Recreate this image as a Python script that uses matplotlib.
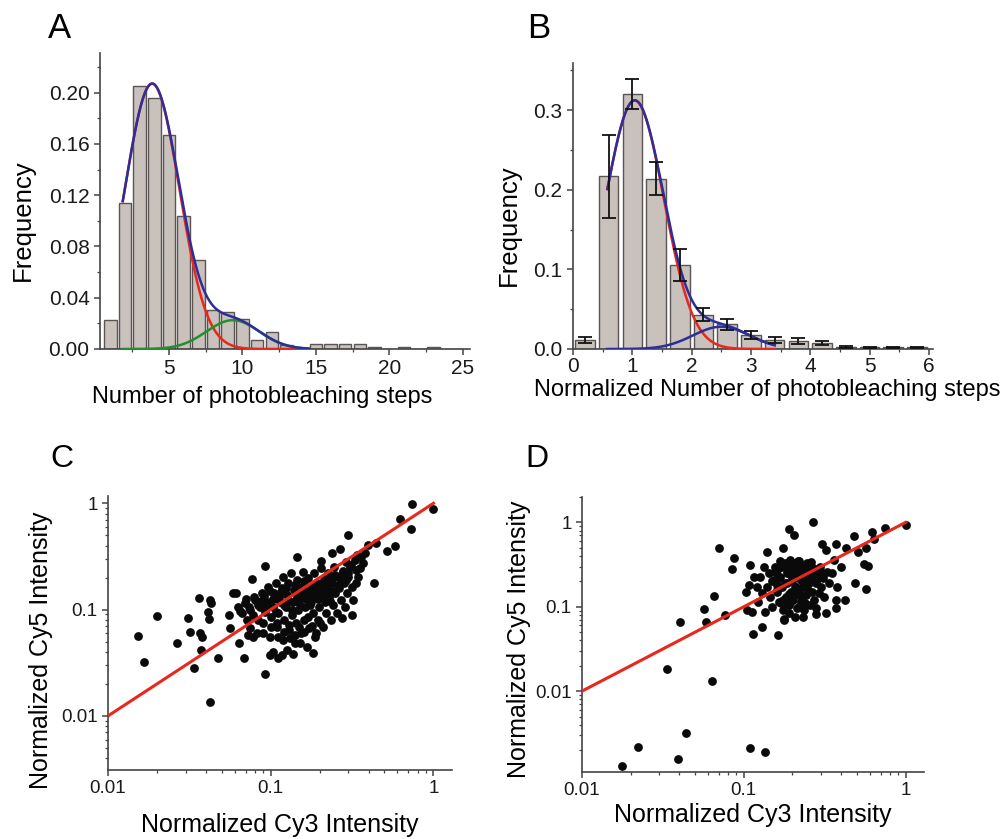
import numpy as np
import matplotlib
matplotlib.use("Agg")
import matplotlib.pyplot as plt
from matplotlib.ticker import MultipleLocator, FixedLocator, FuncFormatter, LogLocator, NullFormatter

plt.rcParams['font.family'] = ['Liberation Sans', 'DejaVu Sans']

# ---------------- Panel A data ----------------
steps_A = list(range(1, 24))
freq_A = [0.0223, 0.114, 0.205, 0.196, 0.167, 0.104, 0.0696, 0.0306, 0.0288, 0.0234,
          0.0068, 0.0135, 0.003, 0.001, 0.004, 0.004, 0.004, 0.004, 0.0013, 0.0,
          0.0013, 0.0, 0.0013]
# Gaussian fit components (amplitude, centre, sigma) and drawn range
fitA_main = (0.207, 3.85, 1.85)
fitA_second = (0.0225, 9.35, 1.8)
fitA_range = (1.85, 14.5)

# ---------------- Panel B data ----------------
bins_B = [0.2, 0.6, 1.0, 1.4, 1.8, 2.2, 2.6, 3.0, 3.4, 3.8, 4.2, 4.6, 5.0, 5.4, 5.8]
freq_B = [0.011, 0.217, 0.320, 0.214, 0.105, 0.043, 0.031, 0.018, 0.011, 0.010,
          0.0075, 0.0025, 0.002, 0.002, 0.002]
err_B = [0.004, 0.052, 0.019, 0.021, 0.020, 0.008, 0.007, 0.005, 0.004, 0.004,
         0.003, 0.001, 0.001, 0.001, 0.001]
fitB_main = (0.312, 1.04, 0.49)
fitB_second = (0.028, 2.5, 0.48)
fitB_range = (0.58, 3.4)

# ---------------- Panel C data ----------------
cy3_C = [0.0153, 0.0167, 0.020, 0.0265, 0.0308, 0.032, 0.034, 0.0363, 0.0367, 0.0375,
         0.038, 0.041, 0.042, 0.0422, 0.043, 0.0422, 0.0475, 0.0556, 0.0561, 0.0589,
         0.061, 0.064, 0.0687, 0.0762, 0.0925, 0.092, 0.0989, 0.111, 0.146, 0.183,
         0.204, 0.237, 0.267, 0.30, 0.314, 0.273, 0.334, 0.334, 0.354, 0.431,
         0.398, 0.445, 0.516, 0.581, 0.624, 0.729, 0.74, 1.0, 0.36, 0.29,
         0.063, 0.0662, 0.0694, 0.071, 0.0737, 0.0751, 0.078, 0.080, 0.0818, 0.0838,
         0.0858, 0.0879, 0.090, 0.092, 0.0942, 0.0966, 0.0988, 0.100, 0.1026, 0.1045,
         0.1076, 0.1086, 0.1112, 0.1138, 0.1166, 0.1183, 0.1194, 0.1205, 0.124, 0.1264,
         0.128, 0.130, 0.1324, 0.1343, 0.1362, 0.139, 0.141, 0.1429, 0.1456, 0.1476,
         0.1497, 0.1527, 0.1548, 0.157, 0.160, 0.1622, 0.1644, 0.1677, 0.170, 0.1724,
         0.1758, 0.1783, 0.1808, 0.1844, 0.187, 0.1897, 0.1932, 0.196, 0.1988, 0.2026,
         0.2055, 0.2084, 0.2123, 0.2153, 0.2183, 0.2226, 0.2257, 0.2289, 0.2333, 0.2366,
         0.240, 0.2449, 0.2483, 0.2541, 0.260, 0.264, 0.2692, 0.2767, 0.2818, 0.2858,
         0.293, 0.300, 0.307, 0.314, 0.322, 0.330, 0.337, 0.345, 0.367, 0.380,
         0.1259, 0.1376, 0.1112, 0.151, 0.131, 0.090, 0.078, 0.0727, 0.1035, 0.1166,
         0.065, 0.07, 0.075, 0.079, 0.083, 0.087, 0.091, 0.095, 0.099, 0.103,
         0.107, 0.112, 0.116, 0.12, 0.125, 0.13, 0.135, 0.14, 0.145, 0.15,
         0.155, 0.16, 0.165, 0.17, 0.175, 0.18, 0.185, 0.19, 0.195, 0.2,
         0.205, 0.21, 0.215, 0.22, 0.225, 0.23, 0.235, 0.24, 0.25, 0.26,
         0.27, 0.28, 0.29, 0.3, 0.31, 0.12, 0.13, 0.14, 0.15, 0.16,
         0.17, 0.18, 0.11, 0.1, 0.19, 0.2]
cy5_C = [0.056, 0.0318, 0.087, 0.048, 0.084, 0.062, 0.028, 0.129, 0.060, 0.0416,
         0.055, 0.0955, 0.081, 0.123, 0.116, 0.0135, 0.0347, 0.0887, 0.0665, 0.142,
         0.144, 0.048, 0.0347, 0.194, 0.257, 0.0247, 0.0372, 0.0347, 0.31, 0.039,
         0.288, 0.343, 0.369, 0.504, 0.0887, 0.0826, 0.179, 0.236, 0.244, 0.179,
         0.405, 0.42, 0.356, 0.396, 0.707, 0.569, 0.985, 0.878, 0.31, 0.28,
         0.106, 0.092, 0.116, 0.0796, 0.106, 0.0665, 0.0887, 0.123, 0.0597, 0.0796,
         0.106, 0.142, 0.0741, 0.0954, 0.1186, 0.164, 0.0555, 0.0856, 0.106, 0.142,
         0.176, 0.0689, 0.092, 0.1186, 0.158, 0.204, 0.0516, 0.0796, 0.106, 0.137,
         0.176, 0.0641, 0.219, 0.0887, 0.1186, 0.153, 0.048, 0.0741, 0.190, 0.0989,
         0.127, 0.0597, 0.164, 0.227, 0.0796, 0.106, 0.142, 0.0447, 0.197, 0.0665,
         0.1186, 0.164, 0.092, 0.219, 0.0555, 0.132, 0.176, 0.0796, 0.106, 0.244,
         0.142, 0.0689, 0.190, 0.1186, 0.092, 0.158, 0.219, 0.132, 0.0796, 0.176,
         0.110, 0.253, 0.142, 0.092, 0.204, 0.158, 0.123, 0.227, 0.176, 0.106,
         0.142, 0.204, 0.253, 0.164, 0.123, 0.292, 0.326, 0.204, 0.272, 0.338,
         0.0415, 0.0386, 0.0555, 0.048, 0.0535, 0.0597, 0.0555, 0.0575, 0.0401, 0.0373,
         0.098, 0.125, 0.1, 0.13, 0.11, 0.12, 0.135, 0.11, 0.15, 0.125,
         0.095, 0.13, 0.145, 0.11, 0.16, 0.12, 0.1, 0.17, 0.13, 0.115,
         0.14, 0.185, 0.125, 0.15, 0.11, 0.135, 0.16, 0.145, 0.125, 0.17,
         0.13, 0.155, 0.2, 0.14, 0.17, 0.12, 0.19, 0.15, 0.21, 0.17,
         0.195, 0.23, 0.19, 0.22, 0.26, 0.062, 0.072, 0.058, 0.068, 0.062,
         0.085, 0.07, 0.075, 0.068, 0.06, 0.075]

# ---------------- Panel D data ----------------
cy3_D = [0.0177, 0.0221, 0.039, 0.0438, 0.1087, 0.136, 0.0333, 0.064, 0.0405, 0.0566,
         0.0587, 0.0655, 0.076, 0.0698, 0.0873, 0.0841, 0.1146, 0.1298, 0.1625, 0.1776,
         0.191, 0.205, 0.267, 0.174, 0.139, 0.110, 0.322, 0.305, 0.374, 0.479,
         0.426, 0.618, 0.642, 0.745, 1.0, 0.571, 0.55, 0.585, 0.569, 0.49,
         0.423, 0.371, 0.371, 0.322, 0.28, 0.28, 0.508, 0.16,
         0.1028, 0.1052, 0.1077, 0.1129, 0.1156, 0.1199, 0.1222, 0.1268, 0.1298, 0.1328,
         0.136, 0.1392, 0.1425, 0.1458, 0.1493, 0.1528, 0.1564, 0.16, 0.164, 0.168,
         0.172, 0.1744, 0.1792, 0.1824, 0.184, 0.1857, 0.189, 0.193, 0.1965, 0.200,
         0.202, 0.205, 0.2085, 0.212, 0.214, 0.217, 0.220, 0.2245, 0.227, 0.2295,
         0.232, 0.2365, 0.240, 0.2435, 0.2475, 0.2515, 0.255, 0.261, 0.264, 0.2695,
         0.2735, 0.280, 0.287, 0.2905, 0.2965, 0.3005, 0.308, 0.315, 0.3255, 0.337,
         0.3485, 0.3605, 0.3785, 0.3975, 0.189, 0.207, 0.176, 0.232, 0.193, 0.168,
         0.15, 0.155, 0.16, 0.165, 0.17, 0.175, 0.18, 0.185, 0.19, 0.195,
         0.2, 0.205, 0.21, 0.215, 0.22, 0.225, 0.23, 0.235, 0.24, 0.245,
         0.25, 0.26, 0.27, 0.28, 0.19, 0.2, 0.21, 0.22, 0.18, 0.17,
         0.23, 0.24, 0.2, 0.21, 0.19, 0.22, 0.25, 0.16, 0.26, 0.3]
cy5_D = [0.00128, 0.00216, 0.00159, 0.00316, 0.00211, 0.00188, 0.0184, 0.01315, 0.0663, 0.0938,
         0.0663, 0.134, 0.0796, 0.504, 0.383, 0.278, 0.0482, 0.0568, 0.046, 0.0707,
         0.841, 0.700, 1.0, 0.495, 0.443, 0.313, 0.473, 0.557, 0.557, 0.681,
         0.504, 0.760, 0.634, 0.857, 0.938, 0.504, 0.322, 0.308, 0.161, 0.193,
         0.12, 0.12, 0.0973, 0.0833, 0.0822, 0.0955, 0.44, 0.181,
         0.151, 0.0913, 0.181, 0.0873, 0.228, 0.173, 0.1148, 0.228, 0.144, 0.299,
         0.0873, 0.173, 0.249, 0.132, 0.100, 0.208, 0.299, 0.151, 0.1148, 0.228,
         0.173, 0.0913, 0.328, 0.132, 0.249, 0.190, 0.1047, 0.299, 0.151, 0.228,
         0.120, 0.328, 0.173, 0.0955, 0.261, 0.344, 0.144, 0.208, 0.1148, 0.299,
         0.173, 0.0913, 0.238, 0.138, 0.328, 0.190, 0.1047, 0.228, 0.151, 0.286,
         0.120, 0.190, 0.238, 0.144, 0.299, 0.173, 0.218, 0.132, 0.261, 0.190,
         0.249, 0.360, 0.173, 0.299, 0.0833, 0.076, 0.0695, 0.076, 0.360, 0.344,
         0.2, 0.26, 0.16, 0.22, 0.3, 0.12, 0.19, 0.27, 0.14, 0.24,
         0.2, 0.31, 0.17, 0.26, 0.22, 0.13, 0.28, 0.18, 0.25, 0.2,
         0.16, 0.23, 0.27, 0.2, 0.11, 0.12, 0.14, 0.1, 0.105, 0.11,
         0.13, 0.11, 0.29, 0.33, 0.31, 0.35, 0.3, 0.27, 0.34, 0.25]

# fitted line (slope 1 in log space): y = x
fit_line_x = [0.01, 1.0]
fit_line_y = [0.01, 1.0]

# ---------------- styling ----------------
BAR_FACE = '#c9c1bc'
BAR_EDGE = '#5a5554'
BLUE = '#2e2e9a'
RED = '#e8281c'
GREEN = '#23902b'
AXC = '#444444'
TICK_FS = 15
TICK_FS_LOG = 13.5


def gauss(x, p):
    a, m, s = p
    return a * np.exp(-(x - m) ** 2 / (2 * s ** 2))


def style_axes(ax, fs):
    for s in ['top', 'right']:
        ax.spines[s].set_visible(False)
    for s in ['left', 'bottom']:
        ax.spines[s].set_color(AXC)
        ax.spines[s].set_linewidth(1.2)
    ax.tick_params(which='major', direction='out', length=4.5, width=1.1,
                   color=AXC, labelsize=fs, labelcolor='#1a1a1a', pad=3)
    ax.tick_params(which='minor', direction='out', length=2.5, width=0.9, color=AXC)


fig = plt.figure(figsize=(10.01, 8.39), dpi=100)

W, H = 1001.0, 839.0


def add_ax(l, r, t, b):
    return fig.add_axes([l / W, 1 - b / H, (r - l) / W, (b - t) / H])


# ---------------- Panel A ----------------
axA = add_ax(100, 470, 53, 349)
axA.bar(steps_A, freq_A, width=0.85, color=BAR_FACE, edgecolor=BAR_EDGE, linewidth=1.0, zorder=2)
xa = np.linspace(fitA_range[0], fitA_range[1], 300)
axA.plot(xa, gauss(xa, fitA_main), color=RED, lw=1.8, zorder=3)
axA.plot(xa, gauss(xa, fitA_second), color=GREEN, lw=1.8, zorder=3)
axA.plot(xa, gauss(xa, fitA_main) + gauss(xa, fitA_second), color=BLUE, lw=1.8, zorder=4)
axA.set_xlim(0.3, 25.5)
axA.set_ylim(0, 0.231)
axA.xaxis.set_major_locator(FixedLocator([5, 10, 15, 20, 25]))
axA.xaxis.set_minor_locator(MultipleLocator(2.5))
axA.yaxis.set_major_locator(FixedLocator([0.0, 0.04, 0.08, 0.12, 0.16, 0.20]))
axA.yaxis.set_minor_locator(MultipleLocator(0.02))
axA.yaxis.set_major_formatter(FuncFormatter(lambda v, p: f"{v:.2f}"))
style_axes(axA, TICK_FS)
axA.set_xlabel('Number of photobleaching steps', fontsize=17)
axA.xaxis.set_label_coords(0.439, -0.125)
axA.set_ylabel('Frequency', fontsize=18.5)
axA.yaxis.set_label_coords(-0.208, 0.436)
axA.yaxis.label.set_va('center')

# ---------------- Panel B ----------------
axB = add_ax(573, 933, 63, 349)
axB.bar(bins_B, freq_B, width=0.33, color=BAR_FACE, edgecolor=BAR_EDGE, linewidth=1.0, zorder=2)
axB.errorbar(bins_B, freq_B, yerr=err_B, fmt='none', ecolor='#111111', elinewidth=1.3,
             capsize=5, capthick=1.3, zorder=5)
xb = np.linspace(fitB_range[0], fitB_range[1], 300)
axB.plot(xb, gauss(xb, fitB_main), color=RED, lw=1.8, zorder=3)
axB.plot(xb, gauss(xb, fitB_second), color=BLUE, lw=1.8, zorder=3)
axB.plot(xb, gauss(xb, fitB_main) + gauss(xb, fitB_second), color=BLUE, lw=1.8, zorder=4)
axB.set_xlim(0, 6.07)
axB.set_ylim(0, 0.359)
axB.xaxis.set_major_locator(FixedLocator([0, 1, 2, 3, 4, 5, 6]))
axB.xaxis.set_minor_locator(MultipleLocator(0.5))
axB.yaxis.set_major_locator(FixedLocator([0.0, 0.1, 0.2, 0.3]))
axB.yaxis.set_minor_locator(MultipleLocator(0.05))
axB.yaxis.set_major_formatter(FuncFormatter(lambda v, p: f"{v:.1f}"))
style_axes(axB, TICK_FS)
axB.tick_params(axis='x', which='major', pad=1)
axB.set_xlabel('Normalized Number of photobleaching steps', fontsize=17)
axB.xaxis.set_label_coords(0.539, -0.105)
axB.set_ylabel('Frequency', fontsize=18.5)
axB.yaxis.set_label_coords(-0.178, 0.434)
axB.yaxis.label.set_va('center')


# ---------------- Panels C & D ----------------
def log_panel(ax, xs, ys, ylim):
    ax.set_xscale('log')
    ax.set_yscale('log')
    ax.scatter(xs, ys, s=40, color='#0a0a0a', linewidths=0, zorder=2)
    ax.plot(fit_line_x, fit_line_y, color=RED, lw=2.2, zorder=3)
    ax.set_xlim(0.01, 1.3)
    ax.set_ylim(*ylim)
    for axis in (ax.xaxis, ax.yaxis):
        axis.set_major_locator(FixedLocator([0.001, 0.01, 0.1, 1]))
        axis.set_minor_locator(LogLocator(base=10, subs=np.arange(2, 10)))
        axis.set_major_formatter(FuncFormatter(lambda v, p: f"{v:g}"))
        axis.set_minor_formatter(NullFormatter())
    style_axes(ax, TICK_FS_LOG)
    ax.set_xlabel('Normalized Cy3 Intensity', fontsize=18)
    ax.set_ylabel('Normalized Cy5 Intensity', fontsize=18)
    ax.yaxis.label.set_va('center')


axC = add_ax(108, 452, 496, 770)
log_panel(axC, cy3_C, cy5_C, (0.0031, 1.17))
axC.xaxis.set_label_coords(0.5, -0.157)
axC.yaxis.set_label_coords(-0.195, 0.438)

axD = add_ax(582, 924, 497, 772)
log_panel(axD, cy3_D, cy5_D, (0.0011, 2.0))
axD.xaxis.set_label_coords(0.5, -0.113)
axD.yaxis.set_label_coords(-0.184, 0.484)

# ---------------- panel letters ----------------
fig.text(48 / W, 1 - 38 / H, 'A', fontsize=25, va='baseline', ha='left')
fig.text(527 / W, 1 - 38 / H, 'B', fontsize=25, va='baseline', ha='left')
fig.text(50 / W, 1 - 467 / H, 'C', fontsize=23, va='baseline', ha='left')
fig.text(525 / W, 1 - 467 / H, 'D', fontsize=23, va='baseline', ha='left')

fig.savefig('out.png', dpi=100, facecolor='white')
